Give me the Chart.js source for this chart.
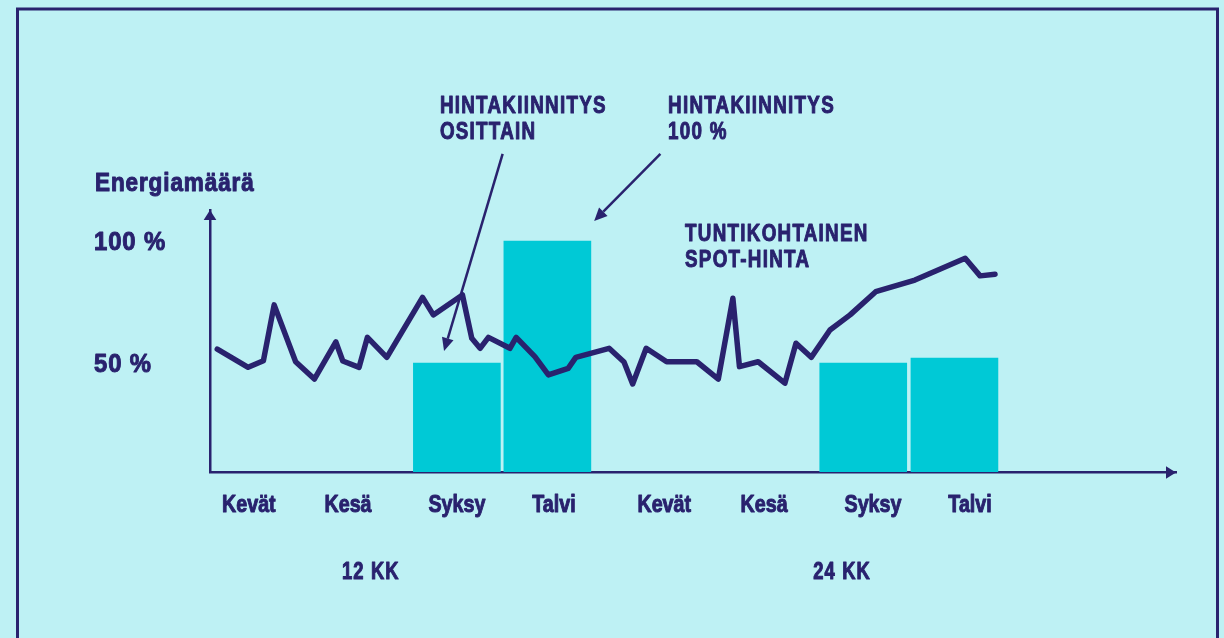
<!DOCTYPE html>
<html><head><meta charset="utf-8">
<script src="https://cdn.jsdelivr.net/npm/chart.js@4.4.0/dist/chart.umd.min.js"></script>
<style>
html,body{margin:0;padding:0;background:#bef1f4;}
#wrap{position:relative;width:1224px;height:638px;}
</style></head><body>
<div id="wrap"><canvas id="c"></canvas></div>
<script>
// x = months from start of the 24-month period, y = % of energy amount
const SEASON_LABELS = ['Kevät','Kesä','Syksy','Talvi','Kevät','Kesä','Syksy','Talvi'];
const SEASON_POS = [1.12, 3.98, 7.12, 9.92, 13.1, 15.98, 19.12, 21.92];
const Y_TICKS = [50, 100];
const Y_TICK_LABELS = ['50 %', '100 %'];
const HEDGE_MONTHS = [7.12, 9.73, 18.84, 21.47];
const HEDGE_SHARE = [50, 100, 50, 52];
const SPOT_MONTHS = [0.21,1.10,1.54,1.85,2.47,3.01,3.63,3.83,4.30,4.54,5.10,6.13,6.44,7.28,7.55,7.79,8.03,8.65,8.83,9.37,9.76,10.33,10.55,11.51,11.94,12.19,12.58,13.17,14.04,14.66,15.08,15.27,15.81,16.58,16.90,17.34,17.88,18.46,19.20,20.33,21.78,22.21,22.64];
const SPOT_VALUES = [55.7,48.2,50.9,73.8,50.5,43.4,58.6,50.8,48.2,60.5,52.3,76.9,69.7,77.9,60.1,56.0,60.5,56.0,60.5,52.6,45.1,47.8,52.3,56.0,50.4,41.4,56.0,50.5,50.5,43.4,76.5,48.5,50.5,41.7,58.1,52.3,63.5,69.7,79.2,84.0,92.9,85.7,86.4];
const X_MAX = 27.86, Y_MIN = 5.3, Y_MAX = 112.7;

const Y_TITLE = 'Energiamäärä';
const NOTES = [
  {x: 6.63, y: 152.6, lines: ['HINTAKIINNITYS', 'OSITTAIN']},
  {x: 13.21, y: 152.6, lines: ['HINTAKIINNITYS', '100 %']},
  {x: 13.70, y: 100.0, lines: ['TUNTIKOHTAINEN', 'SPOT-HINTA']}
];
const PERIODS = [{x: 4.64, label: '12 KK'}, {x: 18.23, label: '24 KK'}];
const ARROWS = [
  {from: [8.44, 135.7], to: [6.75, 54.9]},
  {from: [12.99, 135.7], to: [11.08, 108.2]}
];

const NAVY = '#29226e';
const CYAN = '#00c9d6';
const BG = '#bef1f4';
const FONT = '"Liberation Sans", Arial, sans-serif';

function arrowHead(ctx, x0, y0, x1, y1, len, half) {
  const a = Math.atan2(y1 - y0, x1 - x0);
  const bx = x1 - len * Math.cos(a), by = y1 - len * Math.sin(a);
  ctx.beginPath();
  ctx.moveTo(x1, y1);
  ctx.lineTo(bx + half * Math.sin(a), by - half * Math.cos(a));
  ctx.lineTo(bx - half * Math.sin(a), by + half * Math.cos(a));
  ctx.closePath();
  ctx.fill();
  return [bx, by];
}

// heavy condensed text: horizontal squeeze sx, letter spacing ls
function txt(ctx, s, x, y, size, align, sx, ls) {
  ctx.save();
  ctx.font = 'bold ' + size + 'px ' + FONT;
  ctx.letterSpacing = ls + 'px';
  ctx.textBaseline = 'alphabetic';
  ctx.textAlign = align;
  ctx.fillStyle = NAVY;
  ctx.strokeStyle = NAVY;
  ctx.lineWidth = 1;
  ctx.lineJoin = 'round';
  ctx.translate(x, y);
  ctx.scale(sx, 1);
  ctx.fillText(s, 0, 0);
  ctx.strokeText(s, 0, 0);
  ctx.restore();
}

const decor = {
  id: 'decor',
  beforeDraw(chart) {
    const {ctx, width, height} = chart;
    ctx.save();
    ctx.fillStyle = BG;
    ctx.fillRect(0, 0, width, height);
    ctx.strokeStyle = NAVY;
    ctx.lineWidth = 3;
    ctx.strokeRect(17.5, 9, width - 24, height + 20);
    ctx.restore();
  },
  afterDraw(chart) {
    const {ctx, chartArea: ca, scales: {x, y}} = chart;
    ctx.save();
    ctx.fillStyle = NAVY;
    ctx.strokeStyle = NAVY;
    // axis arrow heads
    arrowHead(ctx, ca.left, ca.bottom, ca.left, ca.top, 10, 6.3);
    arrowHead(ctx, ca.left, ca.bottom + 0.5, ca.right, ca.bottom + 0.5, 10, 6.3);
    // annotation arrows
    ctx.lineWidth = 2.5;
    ARROWS.forEach(a => {
      const x0 = x.getPixelForValue(a.from[0]), y0 = y.getPixelForValue(a.from[1]);
      const x1 = x.getPixelForValue(a.to[0]), y1 = y.getPixelForValue(a.to[1]);
      const [bx, by] = arrowHead(ctx, x0, y0, x1, y1, 13, 6);
      ctx.beginPath();
      ctx.moveTo(x0, y0);
      ctx.lineTo(bx, by);
      ctx.stroke();
    });
    ctx.restore();
    // season tick labels
    x.ticks.forEach((t, i) => txt(ctx, SEASON_LABELS[i], x.getPixelForValue(t.value), ca.bottom + 40, 24, 'center', 0.82, 0));
    // y tick labels
    y.ticks.forEach((t, i) => txt(ctx, Y_TICK_LABELS[i], y.left, y.getPixelForValue(t.value) + 9.5, 26.5, 'left', 0.9, 1));
    // y title
    txt(ctx, Y_TITLE, y.left + 1, ca.top - 19.5, 25, 'left', 0.9, 1);
    // notes
    NOTES.forEach(n => {
      const px = x.getPixelForValue(n.x), py = y.getPixelForValue(n.y);
      n.lines.forEach((l, i) => txt(ctx, l, px, py + i * 26, 23.5, 'left', 0.8, 1.6));
    });
    // period labels
    PERIODS.forEach(p => txt(ctx, p.label, x.getPixelForValue(p.x), ca.bottom + 106.5, 23, 'center', 0.8, 1.4));
  }
};

new Chart(document.getElementById('c'), {
  type: 'line',
  data: {
    datasets: [
      {
        type: 'line',
        label: 'Tuntikohtainen spot-hinta',
        data: SPOT_MONTHS.map((m, i) => ({x: m, y: SPOT_VALUES[i]})),
        borderColor: NAVY,
        borderWidth: 5.5,
        borderJoinStyle: 'round',
        borderCapStyle: 'round',
        tension: 0,
        pointRadius: 0,
        fill: false
      },
      {
        type: 'bar',
        label: 'Hintakiinnitys',
        data: HEDGE_MONTHS.map((m, i) => ({x: m, y: HEDGE_SHARE[i]})),
        backgroundColor: CYAN,
        borderWidth: 0,
        barThickness: 87
      }
    ]
  },
  options: {
    responsive: true,
    maintainAspectRatio: false,
    devicePixelRatio: 1,
    animation: false,
    events: [],
    layout: {padding: {left: 94, top: 210, right: 48, bottom: 0}},
    plugins: {legend: {display: false}, tooltip: {enabled: false}},
    scales: {
      x: {
        type: 'linear', min: 0, max: X_MAX, offset: false,
        grid: {display: false, drawTicks: false},
        border: {display: true, color: NAVY, width: 2.5},
        afterBuildTicks: s => { s.ticks = SEASON_POS.map(v => ({value: v})); },
        afterFit: s => { s.height = 166; },
        ticks: {display: false, autoSkip: false, maxRotation: 0}
      },
      y: {
        type: 'linear', min: Y_MIN, max: Y_MAX,
        grid: {display: false, drawTicks: false},
        border: {display: true, color: NAVY, width: 2.5},
        afterBuildTicks: s => { s.ticks = Y_TICKS.map(v => ({value: v})); },
        afterFit: s => { s.width = 116; },
        ticks: {display: false}
      }
    }
  },
  plugins: [decor]
});
</script>
</body></html>
